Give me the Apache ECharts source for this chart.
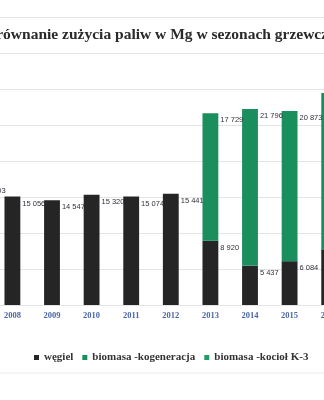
<!DOCTYPE html>
<html>
<head>
<meta charset="utf-8">
<style>
  html, body { margin: 0; padding: 0; background: #fff; overflow: hidden; }
  #chart { width: 396px; height: 400px; margin-left: -47px; }
</style>
<script src="https://cdn.jsdelivr.net/npm/echarts@6/dist/echarts.min.js"></script>
</head>
<body>
<div id="chart"></div>
<script>
// Heating seasons
const years = ['2007', '2008', '2009', '2010', '2011', '2012', '2013', '2014', '2015', '2016'];
// Fuel use, Mg
const wegiel = [16803, 15056, 14547, 15320, 15074, 15441, 8920, 5437, 6084, 7640];
const biomasaKogeneracja = [null, null, null, null, null, null, 17729, 21796, 20873, 21800];
const biomasaKociolK3 = [null, null, null, null, null, null, null, null, null, null];

const COAL = '#252525';
const GREEN = '#1a8e5d';
const SHIFT = 47; // the canvas starts this far left of the visible page

const fmt = v => String(v).replace(/\B(?=(\d{3})+(?!\d))/g, ' ');

const valueLabel = {
  show: true,
  position: ['100%', 0],
  offset: [2, 3],
  align: 'left',
  verticalAlign: 'top',
  fontFamily: 'Liberation Sans',
  fontSize: 7.5,
  color: '#30303c',
  formatter: p => (p.value == null ? '' : fmt(p.value))
};

const chart = echarts.init(document.getElementById('chart'), null, { renderer: 'canvas' });
chart.setOption({
  backgroundColor: '#fff',
  animation: false,
  title: {
    text: 'Porównanie zużycia paliw w Mg w sezonach grzewczych',
    left: SHIFT - 26,
    top: 22,
    textStyle: {
      fontFamily: 'Liberation Serif',
      fontWeight: 'bold',
      fontSize: 15.5,
      color: '#2a2a2a'
    }
  },
  legend: {
    left: SHIFT + 29,
    top: 347,
    itemWidth: 5,
    itemHeight: 5,
    itemGap: 9,
    icon: 'rect',
    textStyle: {
      fontFamily: 'Liberation Serif',
      fontWeight: 'bold',
      fontSize: 11,
      color: '#333'
    },
    data: ['węgiel', 'biomasa -kogeneracja', 'biomasa -kocioł K-3']
  },
  grid: {
    left: 0,
    right: 0,
    top: 17,
    bottom: 95,
    containLabel: false
  },
  xAxis: {
    type: 'category',
    data: years,
    axisLine: { show: false },
    axisTick: { show: false },
    axisLabel: {
      margin: 6,
      fontFamily: 'Liberation Serif',
      fontWeight: 'bold',
      fontSize: 8.5,
      color: '#4a67a3'
    }
  },
  yAxis: {
    type: 'value',
    min: 0,
    max: 40000,
    interval: 5000,
    axisLabel: { show: false },
    axisLine: { show: false },
    axisTick: { show: false },
    splitLine: { lineStyle: { color: '#e4e4e4', width: 1 } }
  },
  graphic: [{
    type: 'line',
    shape: { x1: 0, y1: 373, x2: 396, y2: 373 },
    style: { stroke: '#ececec', lineWidth: 1 }
  }],
  series: [
    {
      name: 'węgiel',
      type: 'bar',
      stack: 'paliwa',
      barWidth: '40%',
      itemStyle: { color: COAL },
      label: valueLabel,
      data: wegiel
    },
    {
      name: 'biomasa -kogeneracja',
      type: 'bar',
      stack: 'paliwa',
      itemStyle: { color: GREEN },
      label: valueLabel,
      data: biomasaKogeneracja
    },
    {
      name: 'biomasa -kocioł K-3',
      type: 'bar',
      stack: 'paliwa',
      itemStyle: { color: '#239a68' },
      label: { show: false },
      data: biomasaKociolK3
    }
  ]
});
</script>
</body>
</html>
